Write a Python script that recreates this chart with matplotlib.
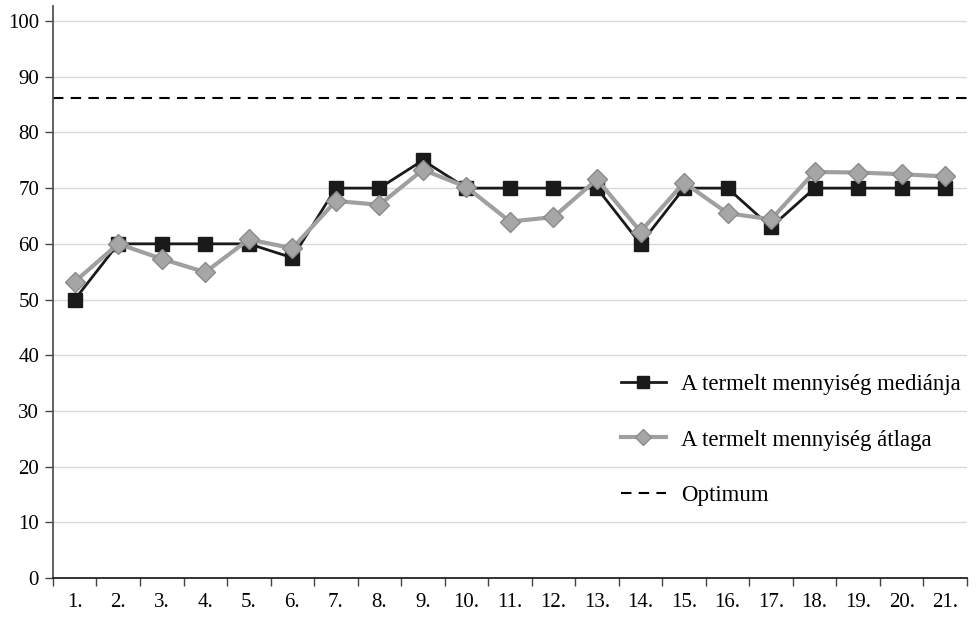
import matplotlib
matplotlib.use("Agg")

import matplotlib.pyplot as plt
import numpy as np

# ── Data ────────────────────────────────────────────────────────────────────
categories = [f"{i}." for i in range(1, 22)]
median_vals = [50, 60, 60, 60, 60, 57.5, 70, 70, 75, 70, 70,
               70, 70, 60, 70, 70, 63, 70, 70, 70, 70]
mean_vals = [53.2, 60.0, 57.3, 54.9, 60.8, 59.2, 67.7, 67.0, 73.3, 70.2, 64.0,
             64.8, 71.6, 62.2, 71.0, 65.5, 64.4, 72.9, 72.8, 72.5, 72.1]
optimum = 86.2

label_median = "A termelt mennyiség mediánja"
label_mean = "A termelt mennyiség átlaga"
label_opt = "Optimum"

plt.rcParams.update({
    "font.family": "Liberation Serif",
    "font.size": 15,
})

fig = plt.figure(figsize=(9.77, 6.18), dpi=100)
ax = fig.add_axes([0.0542, 0.0647, 0.9355, 0.9256])

x = np.arange(1, len(categories) + 1)

ax.plot([0.5, len(categories) + 0.5], [optimum, optimum], color="black",
        lw=1.5, ls=(0, (5, 3.5)), label=label_opt, zorder=2)
ax.plot(x, median_vals, color="#1a1a1a", lw=2, marker="s", ms=10,
        mfc="#1a1a1a", mec="#1a1a1a", label=label_median, zorder=3)
ax.plot(x, mean_vals, color="#a0a0a0", lw=3, marker="D", ms=10,
        mfc="#a6a6a6", mec="#8a8a8a", mew=1, label=label_mean, zorder=4)

ax.set_xlim(0.5, len(categories) + 0.5)
ax.set_ylim(0, 102.7)
ax.set_yticks(np.arange(0, 101, 10))
ax.set_xticks(x)
ax.set_xticklabels(categories)
ax.set_xticks(np.arange(0.5, len(categories) + 1, 1), minor=True)
ax.tick_params(axis="x", which="major", length=0, pad=11)
ax.tick_params(axis="x", which="minor", length=6, width=1,
               direction="out", color="#444444")
ax.tick_params(axis="y", length=6, width=1, direction="out", pad=4,
               color="#444444")

for g in range(10, 101, 10):
    ax.axhline(g, color="#d9d9d9", lw=1, zorder=0)

for s in ["top", "right"]:
    ax.spines[s].set_visible(False)
ax.spines["left"].set_color("#555555")
ax.spines["left"].set_linewidth(1.3)
ax.spines["bottom"].set_color("#222222")
ax.spines["bottom"].set_linewidth(1.3)

handles, labels = ax.get_legend_handles_labels()
order = [1, 2, 0]
ax.legend([handles[i] for i in order], [labels[i] for i in order],
          loc="center left", bbox_to_anchor=(0.621, 0.2413), frameon=False,
          borderpad=0, borderaxespad=0, labelspacing=1.52, handlelength=2.0,
          handletextpad=0.65, fontsize=16.5, markerscale=0.8)

fig.savefig("out.png", dpi=100, facecolor="white")
